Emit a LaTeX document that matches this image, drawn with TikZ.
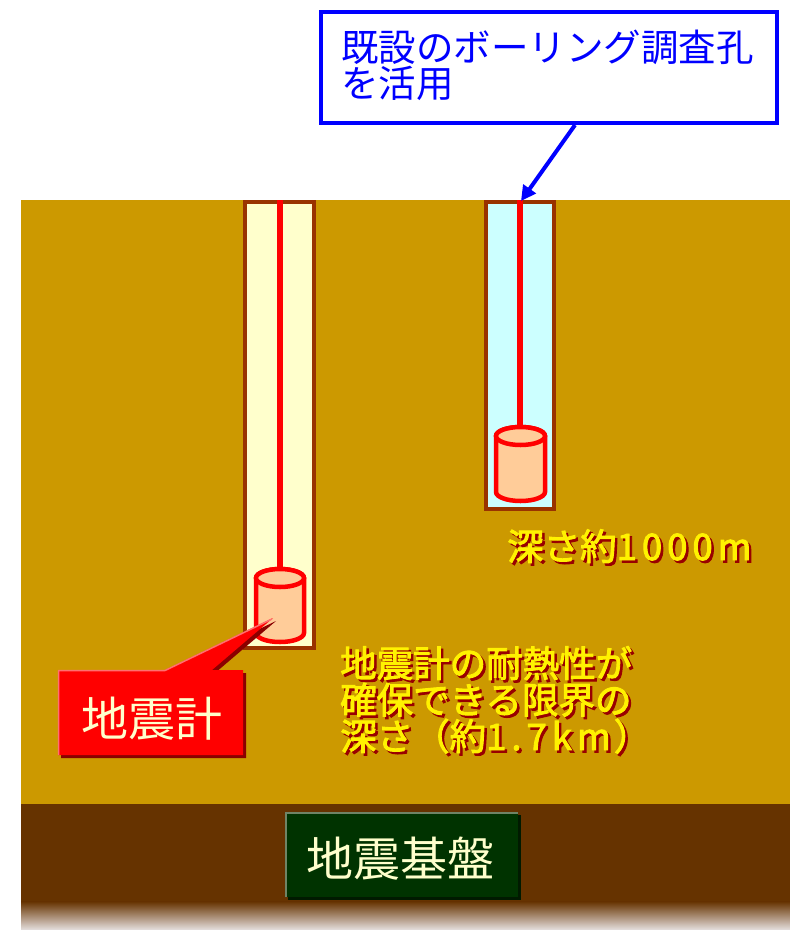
\documentclass[tikz,border=0pt]{standalone}
\usepackage{fontspec}
\newfontfamily\jp{Noto Sans CJK JP}
\newfontfamily\jpbold[FakeBold=2.5]{Noto Sans CJK JP}
\usetikzlibrary{calc,arrows.meta}
\definecolor{soil}{HTML}{CC9900}
\definecolor{rock}{HTML}{663300}
\definecolor{rockfade}{HTML}{E6E0E0}
\definecolor{holeedge}{HTML}{993300}
\definecolor{holeyellow}{HTML}{FFFFCC}
\definecolor{holecyan}{HTML}{CCFFFF}
\definecolor{sensorfill}{HTML}{FFCC99}
\definecolor{cream}{HTML}{FFFFCC}
\definecolor{shadowred}{HTML}{990000}
\definecolor{darkred}{HTML}{8A0000}
\definecolor{tagpink}{HTML}{FF7070}
\definecolor{basegreen}{HTML}{003300}
\definecolor{basegreenshadow}{HTML}{001A00}
\definecolor{basegreenedge}{HTML}{6F8466}
\tikzset{
  hole/.style={draw=holeedge, line width=4pt},
  wire/.style={draw=red, line width=5.5pt},
  sensor/.style={draw=red, fill=sensorfill, line width=4.5pt},
  labelsh/.style={inner sep=0pt, anchor=base west, text=shadowred},
  labelyl/.style={inner sep=0pt, anchor=base west, text=yellow},
  bigfont/.style={font=\jpbold\fontsize{36.5}{36.5}\selectfont},
  tagfont/.style={font=\jp\fontsize{47}{47}\selectfont},
  bluearrow/.style={draw=blue, line width=4pt, -{Triangle[length=15pt,width=15pt]}}
}
\begin{document}
\begin{tikzpicture}[x=1pt,y=-1pt]
\useasboundingbox (0,0) rectangle (790,930);

% ground and bedrock
\fill[soil] (21,200) rectangle (790,804);
\fill[rock] (21,804) rectangle (790,902);
\shade[top color=rock, bottom color=rockfade] (21,901.5) rectangle (790,930);

% left borehole with seismometer
\filldraw[hole, fill=holeyellow] (245,202) rectangle (314,648);
\draw[wire] (280,200) -- (280,570);
\filldraw[sensor] (256,578) -- (256,633)
  arc[start angle=180, end angle=360, x radius=24pt, y radius=9pt]
  -- (304,578)
  arc[start angle=0, end angle=180, x radius=24pt, y radius=9pt] -- cycle;
\draw[sensor] (280,578) ellipse [x radius=24pt, y radius=9pt];

% right borehole (existing survey hole)
\filldraw[hole, fill=holecyan] (486,202) rectangle (554,509);
\draw[wire] (520,200) -- (520,427);
\filldraw[sensor] (496,436) -- (496,492)
  arc[start angle=180, end angle=360, x radius=24.5pt, y radius=9pt]
  -- (545,436)
  arc[start angle=0, end angle=180, x radius=24.5pt, y radius=9pt] -- cycle;
\draw[sensor] (520.5,436) ellipse [x radius=24.5pt, y radius=9pt];
\coordinate (holetop) at (521,201);

% callout for the existing borehole
\node[draw=blue, line width=4pt, fill=white, inner sep=0pt,
      minimum width=456pt, minimum height=111pt, anchor=north west] (note) at (319,10) {};
% multi-line nodes: the base anchor sits on the last line
\node[inner sep=0pt, anchor=base west, text=blue, align=left,
      font=\jp\fontsize{37.5}{34}\selectfont] (notetext) at (341,97)
  {既設のボーリング調査孔\\を活用};
\draw[bluearrow] ($(note.south west)+(256,0)$) -- (holetop);

% depth of the existing hole
\node[labelsh, bigfont] (depthAs) at (509.5,562.5)
  {深さ約1\kern5pt 0\kern5pt 0\kern5pt 0\kern5pt m};
\node[labelyl, bigfont] (depthA) at (507,560)
  {深さ約1\kern5pt 0\kern5pt 0\kern5pt 0\kern5pt m};

% depth limit of the seismometer
\node[labelsh, bigfont, align=left] (limits) at (342.5,752.5)
  {地震計の耐熱性が\\確保できる限界の\\深さ（約1\kern5pt.\kern5pt 7\kern5pt k\kern5pt m\kern3pt）};
\node[labelyl, bigfont, align=left] (limit) at (340,750)
  {地震計の耐熱性が\\確保できる限界の\\深さ（約1\kern5pt.\kern5pt 7\kern5pt k\kern5pt m\kern3pt）};

% seismometer tag with pointer
\fill[darkred] (61,673) -- (168,673) -- (276,621) -- (215,673) -- (246,673)
  -- (246,758) -- (61,758) -- cycle;
\fill[red] (58,670) -- (165,670) -- (273,618) -- (212,670) -- (243,670)
  -- (243,755) -- (58,755) -- cycle;
\draw[tagpink, line width=1.5pt, line join=round] (58.5,755) -- (58.5,670.5) -- (165,670.5) -- (272,619);
\node[inner sep=0pt, anchor=base west, text=cream, tagfont] (tag) at (81,736) {地震計};

% bedrock label
\fill[basegreenshadow] (288,815) rectangle (521,900);
\fill[basegreen] (285,812) rectangle (518,897);
\draw[basegreenedge, line width=1.5pt] (285.75,897) -- (285.75,812.75) -- (518,812.75);
\node[inner sep=0pt, anchor=base west, text=cream, tagfont] (base) at (306,876) {地震基盤};
\end{tikzpicture}
\end{document}
